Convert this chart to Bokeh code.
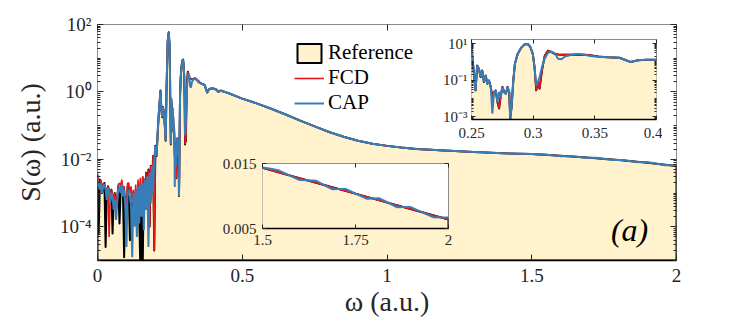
import numpy as np
from bokeh.plotting import figure
from bokeh.models import (Range1d, FixedTicker, LinearAxis, LogAxis, Legend,
                          LegendItem, Label)
from bokeh.embed import file_html
from bokeh.resources import INLINE

# ---------------------------------------------------------------- data
# low-frequency noisy part, grid 0 .. 0.2 (step 0.004)
low_w = np.round(np.arange(0.0, 0.2001, 0.004), 4)
ref_low_log = [-2.45, -4.2, -2.6, -2.7, -3.0, -2.8, -2.7, -4.6, -3.0, -2.8,
               -2.9, -3.2, -2.9, -4.2, -3.1, -3.0, -3.4, -3.2, -2.8, -3.9,
               -2.9, -2.7, -3.0, -4.9, -3.1, -3.5, -2.8, -3.0, -4.4, -3.3,
               -3.4, -3.3, -3.6, -3.3, -3.8, -3.4, -3.6, -5.3, -3.4, -5.3]
fcd_low_log = [-2.5, -2.65, -2.8, -2.6, -2.9, -2.7, -2.75, -2.85, -3.1, -2.8,
               -4.3, -3.1, -2.9, -3.0, -3.3, -3.0, -3.5, -3.1, -2.75, -2.7,
               -2.8, -2.6, -2.9, -2.8, -3.2, -3.6, -2.7, -2.7, -3.0, -2.8,
               -3.3, -2.9, -3.4, -2.75, -3.6, -2.6, -3.2, -2.55, -3.5, -2.5,
               -2.6, -3.3, -2.4, -3.0, -2.3, -4.0, -2.2, -2.9, -1.9, -4.7, -1.6]
cap_low_log = [-2.6, -2.75, -2.9, -2.7, -3.0, -2.8, -2.75, -2.9, -3.2, -2.85,
               -2.9, -3.3, -3.0, -3.1, -3.5, -3.2, -3.8, -3.3, -2.9, -2.8,
               -3.0, -2.75, -3.1, -2.9, -3.4, -4.6, -3.0, -2.9, -3.1, -3.4,
               -4.9, -3.0, -4.0, -2.9, -4.3, -2.8, -3.9, -2.75, -3.7, -2.7,
               -4.1, -2.6, -3.5, -2.5, -4.6, -2.4, -3.3, -2.2, -3.0, -2.0, -1.6]

# resonance region
peak_w = [0.204, 0.208, 0.212, 0.2176, 0.2205, 0.2234, 0.2262, 0.229, 0.2325, 0.2355,
          0.2385, 0.2424, 0.246, 0.249, 0.25, 0.2511, 0.2533, 0.2546, 0.256, 0.2574,
          0.2587, 0.2601, 0.2615, 0.2628, 0.2642, 0.2656, 0.2669, 0.2683, 0.2697, 0.271,
          0.2724, 0.2738, 0.2751, 0.2765, 0.2779, 0.2792, 0.2806, 0.2814, 0.2825, 0.2839,
          0.2852, 0.2874, 0.2902, 0.2929, 0.2956, 0.2978, 0.2997, 0.3011, 0.3025, 0.3038,
          0.3052, 0.3071, 0.3093, 0.312, 0.3148, 0.3175, 0.3202, 0.323, 0.3257, 0.3311,
          0.3366, 0.3421, 0.3475, 0.353]
cap_peak_log = [-1.9, -1.2, -0.6, 0.04, -0.5, -0.75, -0.45, -0.6, -1.0, -1.45,
                0.1, 1.5, 1.77, 1.4, 0.874, -0.027, -1.56, -0.207, -0.387, -0.838,
                -0.477, -1.108, -0.748, -1.198, -1.018, -1.378, -2.82, -1.649, -1.559, -2.19,
                -1.649, -1.919, -1.378, -1.649, -1.739, -1.378, -1.649, -3.09, -2.46, -1.018,
                -0.117, 0.423, 0.748, 0.928, 0.964, 0.784, 0.423, -0.297, -1.288, -1.108,
                -0.838, -0.297, 0.153, 0.477, 0.55, 0.459, 0.153, 0.135, 0.279, 0.369,
                0.423, 0.369, 0.297, 0.27]
fcd_peak_log = [-1.9, -1.2, -0.6, 0.04, -0.5, -0.75, -0.45, -0.6, -1.0, -1.45,
                0.1, 1.5, 1.77, 1.4, 0.874, -0.027, -1.56, -0.207, -0.387, -0.838,
                -0.477, -1.108, -0.748, -1.198, -1.018, -1.378, -1.9, -1.649, -1.559, -2.19,
                -2.55, -1.8, -1.378, -1.649, -1.739, -1.378, -1.649, -3.09, -2.46, -1.018,
                -0.117, 0.423, 0.748, 0.928, 0.964, 0.784, 0.423, -0.297, -1.56, -1.1,
                -1.47, -0.5, 0.3, 0.6, 0.52, 0.42, 0.39, 0.38, 0.38, 0.38,
                0.39, 0.37, 0.33, 0.28]

# smooth decay (FCD and CAP coincide)
tail_w = [0.36, 0.37, 0.379, 0.385, 0.392, 0.40, 0.41, 0.418, 0.425, 0.44,
          0.46, 0.48, 0.50, 0.55, 0.60, 0.65, 0.70, 0.75, 0.80, 0.85,
          0.90, 0.95, 1.00, 1.05, 1.10, 1.20, 1.30, 1.40]
tail_log = [0.24, 0.21, -0.02, 0.08, 0.1, 0.1, 0.07, 0.0, 0.04, 0.0,
            -0.06, -0.13, -0.2, -0.34, -0.5, -0.67, -0.85, -1.02, -1.19, -1.33,
            -1.45, -1.54, -1.6, -1.65, -1.69, -1.74, -1.78, -1.82]

# high-frequency end (linear values)
fcd_end_w = [1.5, 1.6, 1.7, 1.8, 1.9, 2.0]
fcd_end = [0.01433, 0.01274, 0.01115, 0.00956, 0.00797, 0.00638]
cap_end_w = [1.5, 1.522, 1.545, 1.571, 1.598, 1.62, 1.643, 1.665, 1.688, 1.705,
             1.723, 1.752, 1.781, 1.797, 1.813, 1.838, 1.862, 1.88, 1.897, 1.928,
             1.96, 1.98, 2.0]
cap_end = [0.0144, 0.01418, 0.01391, 0.0132, 0.01247, 0.01242, 0.01236, 0.01171, 0.01104, 0.01107,
           0.01108, 0.01032, 0.00956, 0.00961, 0.00965, 0.00896, 0.00827, 0.00829, 0.00832, 0.00753,
           0.00672, 0.00671, 0.00668]

main_x_ticks = [0.0, 0.5, 1.0, 1.5, 2.0]
main_x_labels = ["0", "0.5", "1", "1.5", "2"]
main_y_ticks = [1e-4, 1e-2, 1e0, 1e2]
main_y_labels = ["10⁻⁴", "10⁻²", "10⁰", "10²"]
in1_x_ticks = [0.25, 0.3, 0.35, 0.4]
in1_x_labels = ["0.25", "0.3", "0.35", "0.4"]
in1_y_ticks = [1e-3, 1e-1, 1e1]
in1_y_labels = ["10⁻³", "10⁻¹", "10¹"]
in2_x_ticks = [1.5, 1.75, 2.0]
in2_x_labels = ["1.5", "1.75", "2"]
in2_y_ticks = [0.005, 0.015]
in2_y_labels = ["0.005", "0.015"]

# ---------------------------------------------------------------- assemble series
fcd_w = np.concatenate([low_w, peak_w, tail_w, fcd_end_w])
fcd_s = np.concatenate([10.0 ** np.array(fcd_low_log), 10.0 ** np.array(fcd_peak_log),
                        10.0 ** np.array(tail_log), fcd_end])
cap_w = np.concatenate([low_w, peak_w, tail_w, cap_end_w])
cap_s = np.concatenate([10.0 ** np.array(cap_low_log), 10.0 ** np.array(cap_peak_log),
                        10.0 ** np.array(tail_log), cap_end])
nref = len(ref_low_log)
ref_w = np.concatenate([low_w[:nref], fcd_w[nref:]])
ref_s = np.concatenate([10.0 ** np.array(ref_low_log), fcd_s[nref:]])
FLOOR = 1e-5
patch_x = np.concatenate([[ref_w[0]], ref_w, [ref_w[-1]]])
patch_y = np.concatenate([[FLOOR], ref_s, [FLOOR]])

# ---------------------------------------------------------------- style
FONT = "Liberation Serif"
FILL = "#FFF2CC"
RED = "#E41A1C"
BLUE = "#377EB8"
FRAME = "#8a8a8a"
TXT = "#262626"


def log_minor(majors, lo, hi):
    out = []
    for k in range(lo, hi):
        for m in range(1, 10):
            v = m * 10.0 ** k
            if not any(abs(v - t) / t < 1e-9 for t in majors):
                out.append(v)
    return out


def style_fig(f, fs, xt, xl, yt, yl, ymin, log_y, tin, tmin, xstand, ystand):
    f.outline_line_color = FRAME
    f.outline_line_width = 1
    f.grid.visible = False
    xax = f.below[0]
    yax = f.left[0]
    xax.ticker = FixedTicker(ticks=xt)
    xax.major_label_overrides = dict(zip(xt, xl))
    yax.ticker = FixedTicker(ticks=yt, minor_ticks=ymin)
    yax.major_label_overrides = dict(zip(yt, yl))
    for ax in (xax, yax):
        ax.major_label_text_font = FONT
        ax.major_label_text_font_size = fs
        ax.major_label_text_color = TXT
        ax.major_tick_in = tin
        ax.major_tick_out = 0
        ax.minor_tick_in = tmin
        ax.minor_tick_out = 0
        ax.major_tick_line_color = TXT
        ax.minor_tick_line_color = TXT
    xax.minor_tick_line_color = None
    xax.major_label_standoff = xstand
    yax.major_label_standoff = ystand
    xax.axis_line_color = "black"
    xax.axis_line_width = 1.5
    yax.axis_line_color = None
    top = LinearAxis(ticker=FixedTicker(ticks=xt), major_label_overrides={t: "" for t in xt},
                     axis_line_color=None, major_tick_in=tin, major_tick_out=0,
                     minor_tick_line_color=None, major_tick_line_color=TXT,
                     major_label_text_font_size="1px", major_label_standoff=0)
    f.add_layout(top, "above")
    AxisCls = LogAxis if log_y else LinearAxis
    right = AxisCls(ticker=FixedTicker(ticks=yt, minor_ticks=ymin),
                    major_label_overrides={t: "" for t in yt},
                    axis_line_color=None, major_tick_in=tin, major_tick_out=0,
                    minor_tick_in=tmin, minor_tick_out=0,
                    major_tick_line_color=TXT, minor_tick_line_color=TXT,
                    major_label_text_font_size="1px", major_label_standoff=0)
    f.add_layout(right, "right")
    return xax, yax


def draw(f):
    pr = f.patch(patch_x, patch_y, fill_color=FILL, line_color="black", line_width=2.0,
                 line_join="round")
    fr = f.line(fcd_w, fcd_s, line_color=RED, line_width=1.6)
    cr = f.line(cap_w, cap_s, line_color=BLUE, line_width=2.0)
    return pr, fr, cr


# ---------------------------------------------------------------- main figure
p = figure(width=747, height=327, x_range=Range1d(0, 2), y_range=Range1d(1e-5, 1e2),
           y_axis_type="log", output_backend="svg", toolbar_location=None,
           min_border_left=97, min_border_right=71, min_border_top=24, min_border_bottom=67,
           background_fill_color="white", border_fill_color="white")
mx, my = style_fig(p, "19px", main_x_ticks, main_x_labels, main_y_ticks, main_y_labels,
                   log_minor(main_y_ticks, -5, 2), True, 6, 3, 8, 6)
mx.axis_label = "ω (a.u.)"
my.axis_label = "S(ω) (a.u.)"
for ax in (mx, my):
    ax.axis_label_text_font = FONT
    ax.axis_label_text_font_size = "28px"
    ax.axis_label_text_font_style = "normal"
    ax.axis_label_text_color = TXT
mx.axis_label_standoff = 1
my.axis_label_standoff = 11

pr, fr, cr = draw(p)
legend = Legend(items=[LegendItem(label="Reference", renderers=[pr]),
                       LegendItem(label="FCD", renderers=[fr]),
                       LegendItem(label="CAP", renderers=[cr])],
                location=(197, 145), orientation="vertical",
                glyph_width=30, glyph_height=24, label_height=20, spacing=0,
                label_standoff=4, padding=0, margin=0,
                border_line_alpha=0, background_fill_alpha=0,
                label_text_font=FONT, label_text_font_size="21px", label_text_color="black")
p.add_layout(legend, "center")
p.add_layout(Label(x=1.838, y=8.3e-5, text="(a)", text_font=FONT, text_font_style="italic",
                   text_font_size="32px", text_align="center", text_baseline="middle",
                   text_color="black"))

# ---------------------------------------------------------------- inset 1 (log)
ins1 = figure(width=236, height=110, x_range=Range1d(0.25, 0.4),
              y_range=Range1d(7.2e-4, 16), y_axis_type="log", output_backend="svg",
              toolbar_location=None, min_border_left=45, min_border_right=6,
              min_border_top=4, min_border_bottom=26,
              background_fill_color="white", border_fill_color=None,
              styles={"position": "absolute", "left": "426px", "top": "35px"})
style_fig(ins1, "15px", in1_x_ticks, in1_x_labels, in1_y_ticks, in1_y_labels,
          log_minor(in1_y_ticks, -4, 2), True, 4, 2, 8, 4)
draw(ins1)

# ---------------------------------------------------------------- inset 2 (linear)
ins2 = figure(width=242, height=95, x_range=Range1d(1.5, 2.0),
              y_range=Range1d(0.005, 0.015), output_backend="svg",
              toolbar_location=None, min_border_left=50, min_border_right=6,
              min_border_top=6, min_border_bottom=24,
              background_fill_color="white", border_fill_color=None,
              styles={"position": "absolute", "left": "212px", "top": "157px"})
style_fig(ins2, "15px", in2_x_ticks, in2_x_labels, in2_y_ticks, in2_y_labels,
          [], False, 4, 2, 6, 6)
draw(ins2)

open("out.html", "w").write(file_html([p, ins1, ins2], INLINE))
